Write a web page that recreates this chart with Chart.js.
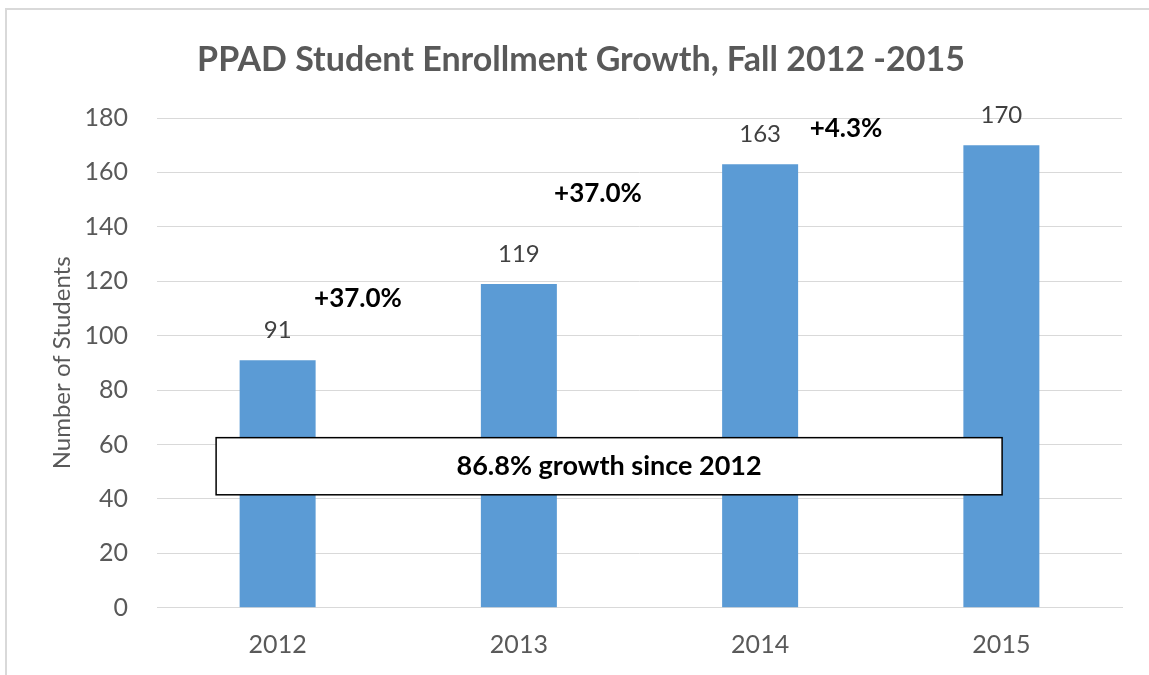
<!DOCTYPE html>
<html>
<head>
<meta charset="utf-8">
<script src="https://cdn.jsdelivr.net/npm/chart.js@4/dist/chart.umd.min.js"></script>
<style>
html,body{margin:0;padding:0;background:#fff;overflow:hidden;}
#wrap{position:relative;width:1149px;height:675px;}
</style>
</head>
<body>
<div id="wrap"><canvas id="c" width="1149" height="675"></canvas></div>
<script>
const categories = ["2012", "2013", "2014", "2015"];
const enrollment = [91, 119, 163, 170];
const yTicks = [0, 20, 40, 60, 80, 100, 120, 140, 160, 180];
const growthLabels = ["+37.0%", "+37.0%", "+4.3%"];
// position of each growth label: [category index, value]
const growthX = [0.333, 1.328, 2.356];
const growthY = [113.7, 152.3, 176];
const summaryText = "86.8% growth since 2012";
const summaryBoxX = [-0.255, 3.003];
const summaryBoxY = [62.5, 41.5];

const FONT = "Lato, 'Open Sans', sans-serif";

const frame = {
  id: 'frame',
  beforeDraw(chart) {
    const ctx = chart.ctx;
    ctx.save();
    ctx.fillStyle = '#fff';
    ctx.fillRect(0, 0, chart.width, chart.height);
    ctx.strokeStyle = '#d9d9d9';
    ctx.lineWidth = 2;
    ctx.strokeRect(6, 9, chart.width + 10, chart.height + 10);
    ctx.restore();
  }
};

const labelsPlugin = {
  id: 'labelsPlugin',
  afterDatasetsDraw(chart) {
    const ctx = chart.ctx;
    const xs = chart.scales.x, ys = chart.scales.y;
    const meta = chart.getDatasetMeta(0);
    ctx.save();
    ctx.font = "24px " + FONT;
    ctx.fillStyle = '#404040';
    ctx.textAlign = 'center';
    ctx.textBaseline = 'middle';
    meta.data.forEach((bar, i) => {
      ctx.fillText(String(enrollment[i]), bar.x, bar.y - 30);
    });
    ctx.font = "bold 26px " + FONT;
    ctx.fillStyle = '#000';
    growthLabels.forEach((t, i) => {
      const px = xs.getPixelForValue(growthX[i]);
      const py = ys.getPixelForValue(growthY[i]);
      ctx.fillText(t, px, py);
    });
    const x1 = xs.getPixelForValue(summaryBoxX[0]);
    const x2 = xs.getPixelForValue(summaryBoxX[1]);
    const y1 = ys.getPixelForValue(summaryBoxY[0]);
    const y2 = ys.getPixelForValue(summaryBoxY[1]);
    ctx.fillStyle = '#fff';
    ctx.fillRect(x1, y1, x2 - x1, y2 - y1);
    ctx.strokeStyle = '#000';
    ctx.lineWidth = 1.5;
    ctx.strokeRect(x1, y1, x2 - x1, y2 - y1);
    ctx.fillStyle = '#000';
    ctx.font = "bold 27px " + FONT;
    ctx.fillText(summaryText, (x1 + x2) / 2, (y1 + y2) / 2);
    ctx.restore();
  }
};

new Chart(document.getElementById('c'), {
  type: 'bar',
  data: {
    labels: categories,
    datasets: [{
      data: enrollment,
      backgroundColor: '#5B9BD5',
      borderWidth: 0,
      categoryPercentage: 1,
      barPercentage: 0.315
    }]
  },
  options: {
    responsive: false,
    animation: false,
    devicePixelRatio: 1,
    layout: { padding: { left: 40, right: 27, top: 0, bottom: 21.3 } },
    plugins: {
      legend: { display: false },
      tooltip: { enabled: false },
      title: {
        display: true,
        text: 'PPAD Student Enrollment Growth, Fall 2012 -2015',
        color: '#595959',
        font: { family: FONT, size: 34, weight: 'bold' },
        padding: { top: 39.6, bottom: 37.6 }
      }
    },
    scales: {
      x: {
        afterFit(scale) { scale.height = 46; },
        grid: { display: false, drawTicks: false },
        border: { color: '#d9d9d9', width: 1 },
        ticks: { color: '#595959', font: { family: FONT, size: 25 }, padding: 22 }
      },
      y: {
        min: 0, max: 180,
        afterBuildTicks(scale) { scale.ticks = yTicks.map(v => ({ value: v })); },
        afterFit(scale) { scale.width = 117; },
        grid: { color: '#d9d9d9', lineWidth: 1, drawTicks: false },
        border: { display: false },
        ticks: { color: '#595959', font: { family: FONT, size: 25 }, padding: 29 },
        title: {
          display: true,
          text: 'Number of Students',
          color: '#595959',
          font: { family: FONT, size: 24 },
          padding: { top: 7.6, bottom: 0 }
        }
      }
    }
  },
  plugins: [frame, labelsPlugin]
});
</script>
</body>
</html>
